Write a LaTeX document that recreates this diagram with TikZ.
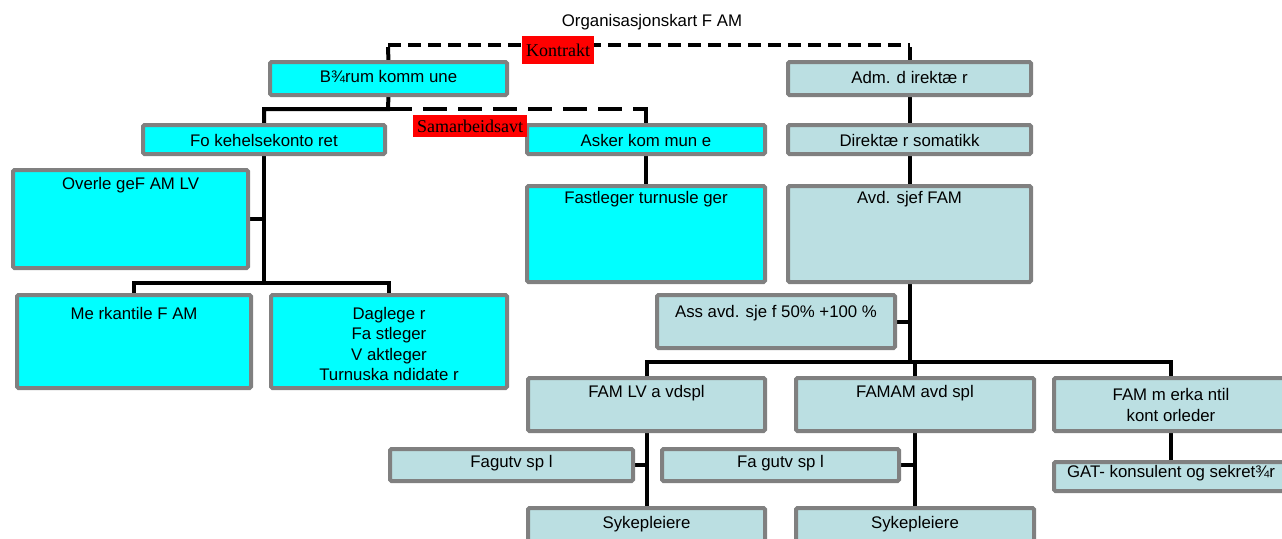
\documentclass[tikz,border=0pt]{standalone}
\usepackage{fontspec}
\setmainfont{Liberation Sans}
\newfontfamily\labfont{Liberation Serif}
\usetikzlibrary{calc}
\definecolor{boxcyan}{HTML}{00FFFF}
\definecolor{boxblue}{HTML}{BBDFE2}
\definecolor{bordergray}{HTML}{808080}
\definecolor{labred}{HTML}{FF0000}
\pgfdeclarelayer{bg}
\pgfsetlayers{bg,main}
\newcommand{\orgbox}[6]{%
  \node[#6, anchor=north west, minimum width={#4pt-#2pt-4pt}, minimum height={#5pt-#3pt-4pt}] (#1) at ({#2+2},{#3+2}) {};}
\newcommand{\boxtext}[4]{%
  \node[btext] (#1) at ([yshift=-#3pt]#2.north) {#4};}
\begin{document}
\begin{tikzpicture}[x=1pt,y=-1pt,
  basebox/.style={draw=bordergray, line width=4pt, rounded corners=1.5pt, inner sep=0pt, outer sep=0pt},
  cyanbox/.style={basebox, fill=boxcyan},
  bluebox/.style={basebox, fill=boxblue},
  btext/.style={font=\fontsize{16.8}{20.5}\selectfont, align=center, inner sep=0pt, anchor=center},
  conn/.style={line width=4pt, black},
  kdash/.style={line width=4pt, black, dash pattern=on 13pt off 7pt},
  sdash/.style={line width=4pt, black, dash pattern=on 24pt off 11pt},
  lab/.style={fill=labred, inner sep=0pt, font=\labfont\fontsize{18}{20}\selectfont}]
\clip (0,0) rectangle (1282,538);

\node[btext] (title) at (652,22) {Organisasjonskart F AM};

% boxes
\orgbox{br}{268}{60}{509}{97}{cyanbox}
\orgbox{adm}{786}{60}{1033}{97}{bluebox}
\orgbox{fo}{141}{123}{387}{156}{cyanbox}
\orgbox{ak}{525}{123}{767}{156}{cyanbox}
\orgbox{dir}{786}{123}{1033}{156}{bluebox}
\orgbox{ov}{11}{168}{250}{270}{cyanbox}
\orgbox{fl}{525}{184}{767}{284}{cyanbox}
\orgbox{avd}{786}{184}{1033}{284}{bluebox}
\orgbox{ass}{655}{293}{897}{350}{bluebox}
\orgbox{mk}{15}{293}{253}{390}{cyanbox}
\orgbox{dg}{269}{293}{509}{390}{cyanbox}
\orgbox{lv}{526}{376}{767}{433}{bluebox}
\orgbox{am}{794}{376}{1036}{433}{bluebox}
\orgbox{mer}{1052}{376}{1290}{433}{bluebox}
\orgbox{fag1}{388}{447}{635}{483}{bluebox}
\orgbox{fag2}{660}{447}{901}{483}{bluebox}
\orgbox{gat}{1052}{460}{1290}{493}{bluebox}
\orgbox{s1}{526}{506}{767}{550}{bluebox}
\orgbox{s2}{794}{506}{1036}{550}{bluebox}

% texts
\boxtext{tbr}{br}{15}{B¾rum  komm une}
\boxtext{tadm}{adm}{15}{Adm. d irektæ r}
\boxtext{tfo}{fo}{15}{Fo kehelsekonto ret}
\boxtext{tak}{ak}{15}{Asker kom mun e}
\boxtext{tdir}{dir}{15}{Direktæ r somatikk}
\boxtext{tov}{ov}{15}{Overle geF AM  LV}
\boxtext{tfl}{fl}{13}{Fastleger turnusle ger}
\boxtext{tavd}{avd}{13}{Avd. sjef  FAM}
\boxtext{tass}{ass}{18}{Ass avd. sje f 50\% +100 \%}
\boxtext{tmk}{mk}{18}{Me rkantile F AM}
\boxtext{tdg}{dg}{49}{Daglege r\\Fa stleger\\V aktleger\\Turnuska ndidate r}
\boxtext{tlv}{lv}{15}{FAM LV a vdspl}
\boxtext{tam}{am}{15}{FAMAM  avd spl}
\boxtext{tmer}{mer}{27}{FAM m erka ntil\\kont orleder}
\boxtext{tfag1}{fag1}{14}{Fagutv sp l}
\boxtext{tfag2}{fag2}{14}{Fa gutv sp l}
\boxtext{tgat}{gat}{11}{GAT-  konsulent og sekret¾r}
\boxtext{ts1}{s1}{16}{Sykepleiere}
\boxtext{ts2}{s2}{16}{Sykepleiere}

% junction coordinates
\coordinate (kL) at (388,45);
\coordinate (kR) at (909.5,45);
\coordinate (jB) at (388,109);
\coordinate (jF) at (264,283);
\coordinate (jA) at (909.5,362);

\begin{pgfonlayer}{bg}
  \fill[white] (0,0) rectangle (1282,538);
  % Kontrakt
  \draw[conn] (br.north) -- ([yshift=-2pt]kL);
  \draw[conn] (adm.north) -- ([yshift=-2pt]kR);
  \draw[kdash] (kL) -- (kR);
  % Barum to Folkehelse / Asker
  \draw[conn] (br.south) -- (jB) -| (fo.north);
  \draw[sdash] (jB) -- (jB -| ak.north);
  \draw[conn] ([yshift=2pt]jB -| ak.north) -- (ak.north);
  % Folkehelse subtree
  \draw[conn] (fo.south) -- (jF);
  \draw[conn] (ov.east) -- (ov.east -| fo.south);
  \draw[conn] (mk.north) |- (jF) -| (dg.north);
  % Asker
  \draw[conn] (ak.south) -- (fl.north);
  % hospital chain
  \draw[conn] (adm.south) -- (dir.north);
  \draw[conn] (dir.south) -- (avd.north);
  \draw[conn] (avd.south) -- (jA);
  \draw[conn] (ass.east) -- (ass.east -| avd.south);
  \draw[conn] (lv.north) |- (jA) -| (mer.north);
  \draw[conn] (am.north) -- (am.north |- jA);
  % lower
  \draw[conn] (lv.south) -- (s1.north);
  \draw[conn] (fag1.east) -- (fag1.east -| lv.south);
  \draw[conn] (am.south) -- (s2.north);
  \draw[conn] (fag2.east) -- (fag2.east -| am.south);
  \draw[conn] (mer.south) -- (gat.north);
\end{pgfonlayer}

% labels
\node[lab, minimum width=72pt, minimum height=28pt] (kon) at (558,50) {Kontrakt};
\node[lab, minimum width=114pt, minimum height=22pt] (sam) at (470,126) {Samarbeidsavt};
\end{tikzpicture}
\end{document}
